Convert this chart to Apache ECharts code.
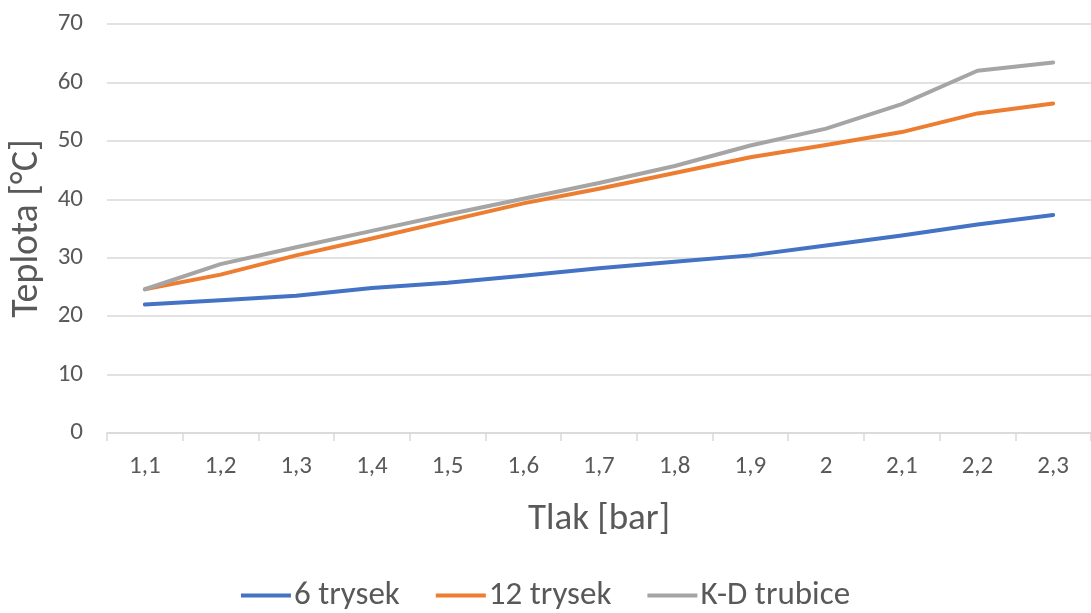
<!DOCTYPE html>
<html>
<head>
<meta charset="utf-8">
<script src="https://cdn.jsdelivr.net/npm/echarts@6/dist/echarts.min.js"></script>
<style>
  html, body { margin: 0; padding: 0; background: #fff; }
  #chart { width: 1091px; height: 613px; }
</style>
</head>
<body>
<div id="chart"></div>
<script>
// tlak [bar]
var categories = ['1,1', '1,2', '1,3', '1,4', '1,5', '1,6', '1,7', '1,8', '1,9', '2', '2,1', '2,2', '2,3'];
// teplota [°C]
var trysek6 = [22.0, 22.7, 23.5, 24.8, 25.7, 26.9, 28.2, 29.3, 30.4, 32.1, 33.8, 35.7, 37.3];
var trysek12 = [24.6, 27.1, 30.4, 33.3, 36.3, 39.3, 41.8, 44.5, 47.2, 49.3, 51.5, 54.7, 56.4];
var kdTrubice = [24.6, 28.9, 31.8, 34.6, 37.4, 40.1, 42.8, 45.7, 49.2, 52.1, 56.3, 62.0, 63.4];
var yTicks = { min: 0, max: 70, step: 10 };

var font = "Carlito, 'Liberation Sans Narrow', 'DejaVu Sans Condensed', sans-serif";
var textGrey = '#595959';

function lineSeries(name, data, color) {
    return {
        name: name,
        type: 'line',
        data: data,
        symbol: 'none',
        smooth: false,
        lineStyle: { color: color, width: 4, cap: 'round', join: 'round' },
        itemStyle: { color: color }
    };
}

var option = {
    animation: false,
    grid: { left: 107, top: 24, width: 987, height: 409 },
    legend: {
        bottom: -4,
        left: 'center',
        itemWidth: 50,
        itemHeight: 4,
        itemGap: 36,
        icon: 'rect',
        textStyle: { color: textGrey, fontSize: 33, fontFamily: font, padding: [0, 0, 0, -2] },
        data: ['6 trysek', '12 trysek', 'K-D trubice']
    },
    xAxis: {
        type: 'category',
        data: categories,
        boundaryGap: true,
        name: 'Tlak [bar]',
        nameLocation: 'middle',
        nameGap: 68,
        nameTextStyle: { color: textGrey, fontSize: 37, fontFamily: font },
        axisLine: { lineStyle: { color: '#d9d9d9', width: 1.5 } },
        axisTick: { show: true, length: 8, lineStyle: { color: '#d9d9d9', width: 1.5 } },
        axisLabel: { color: textGrey, fontSize: 25, fontFamily: font, margin: 21 },
        splitLine: { show: false }
    },
    yAxis: {
        type: 'value',
        min: yTicks.min,
        max: yTicks.max,
        interval: yTicks.step,
        name: 'Teplota [°C]',
        nameLocation: 'middle',
        nameGap: 60,
        nameTextStyle: { color: textGrey, fontSize: 38, fontFamily: font },
        axisLine: { show: false },
        axisTick: { show: false },
        axisLabel: { color: textGrey, fontSize: 25, fontFamily: font, margin: 24 },
        splitLine: { lineStyle: { color: '#d9d9d9', width: 1.5 } }
    },
    series: [
        lineSeries('6 trysek', trysek6, '#4472C4'),
        lineSeries('12 trysek', trysek12, '#ED7D31'),
        lineSeries('K-D trubice', kdTrubice, '#A5A5A5')
    ]
};

var myChart = echarts.init(document.getElementById('chart'));
myChart.setOption(option);
</script>
</body>
</html>
